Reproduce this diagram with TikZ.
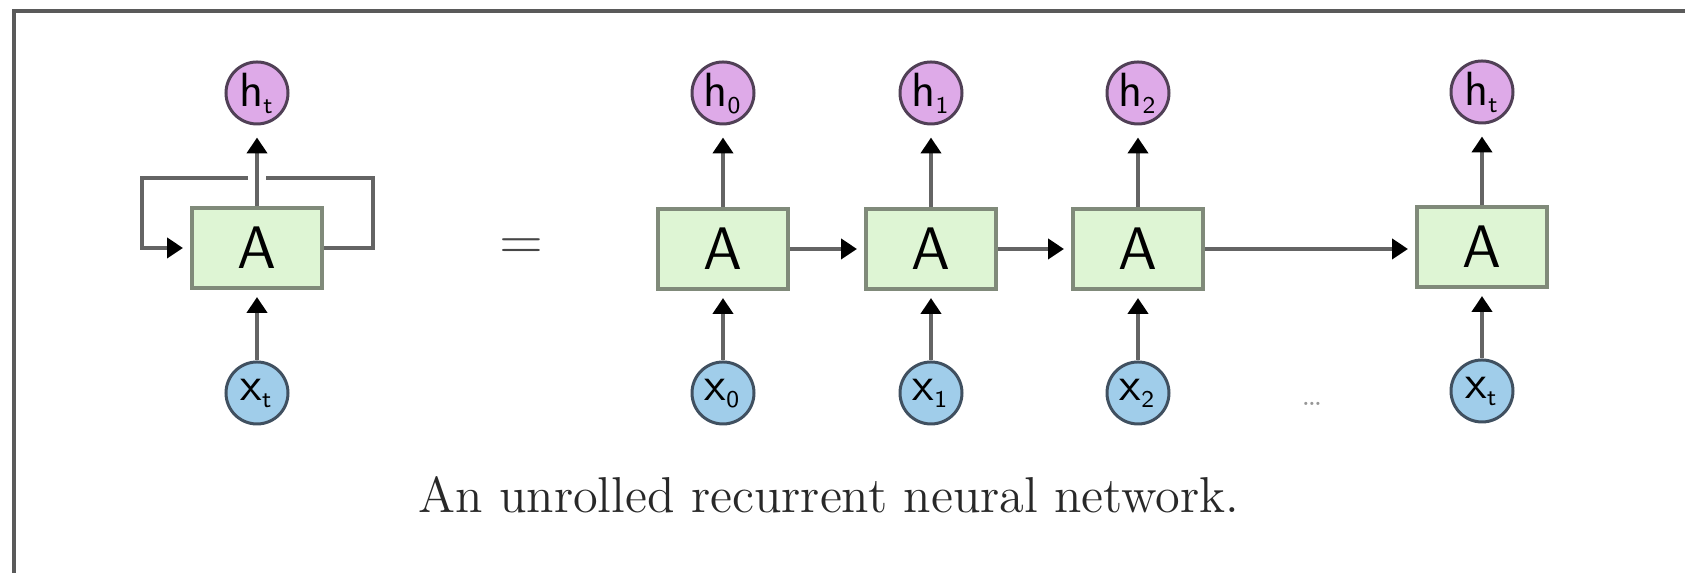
\documentclass[tikz,border=0pt]{standalone}
\usepackage{xcolor}
\usepackage{amsmath}
\usepackage{amssymb}
\usetikzlibrary{arrows.meta}

\begin{document}
\begin{tikzpicture}[x=0.25pt,y=0.25pt,yscale=-1,xscale=1,
  cell/.style={draw={rgb, 255:red, 128; green, 138; blue, 122}, fill={rgb, 255:red, 222; green, 245; blue, 212}, line width=1pt, minimum width=32.5pt, minimum height=20pt, inner sep=0pt, font=\sffamily\fontsize{15}{15}\selectfont},
  hstate/.style={circle, draw={rgb, 255:red, 80; green, 64; blue, 86}, fill={rgb, 255:red, 222; green, 170; blue, 232}, line width=0.75pt, minimum size=15.5pt, inner sep=0pt, font=\fontsize{12}{12}\selectfont},
  xinput/.style={circle, draw={rgb, 255:red, 64; green, 80; blue, 96}, fill={rgb, 255:red, 160; green, 205; blue, 234}, line width=0.75pt, minimum size=15.5pt, inner sep=0pt, font=\fontsize{12}{12}\selectfont},
  link/.style={draw={rgb, 255:red, 100; green, 100; blue, 100}, line width=1pt},
  flow/.style={link, -{Triangle[black,length=4pt,width=5pt]}, shorten >=1.75pt}
]
\useasboundingbox (0,0) rectangle (1685,573);

%Straight Lines [frame]
\draw [color={rgb, 255:red, 90; green, 90; blue, 90 }, line width=1pt] (14,573) -- (14,11) -- (1685,11) ;

%Folded network
\node [cell] (A) at (257,248) {A};
\node [hstate] (ht) at (257,93) {$\mathsf{h}_{\scriptscriptstyle\mathsf{t}}$};
\node [xinput] (xt) at (257,393) {$\mathsf{x}_{\scriptscriptstyle\mathsf{t}}$};
\coordinate (loopR) at (373,178);
\coordinate (loopL) at (142,178);
\coordinate (gapR) at (266,178);
\coordinate (gapL) at (248,178);
\draw [flow] (xt) -- (A);
\draw [flow, shorten >=3pt] (A) -- (ht);
\draw [link] (A.east) -| (loopR) -- (gapR);
\draw [flow] (gapL) -- (loopL) |- (A.west);

% Text Node
\node [font=\fontsize{14}{14}\selectfont, text={rgb, 255:red, 70; green, 70; blue, 70}] (eq) at (521,249) {$=$};

%Unrolled network
\node [cell] (A0) at (723,249) {A};
\node [cell] (A1) at (931,249) {A};
\node [cell] (A2) at (1138,249) {A};
\node [cell] (A3) at (1482,247) {A};
\node [hstate] (h0) at (723,93) {$\mathsf{h}_{\scriptscriptstyle\mathsf{0}}$};
\node [hstate] (h1) at (931,93) {$\mathsf{h}_{\scriptscriptstyle\mathsf{1}}$};
\node [hstate] (h2) at (1138,93) {$\mathsf{h}_{\scriptscriptstyle\mathsf{2}}$};
\node [hstate] (h3) at (1482,92) {$\mathsf{h}_{\scriptscriptstyle\mathsf{t}}$};
\node [xinput] (x0) at (723,393) {$\mathsf{x}_{\scriptscriptstyle\mathsf{0}}$};
\node [xinput] (x1) at (931,393) {$\mathsf{x}_{\scriptscriptstyle\mathsf{1}}$};
\node [xinput] (x2) at (1138,393) {$\mathsf{x}_{\scriptscriptstyle\mathsf{2}}$};
\node [xinput] (x3) at (1482,391) {$\mathsf{x}_{\scriptscriptstyle\mathsf{t}}$};

\draw [flow] (x0) -- (A0);
\draw [flow] (x1) -- (A1);
\draw [flow] (x2) -- (A2);
\draw [flow] (x3) -- (A3);
\draw [flow, shorten >=3pt] (A0) -- (h0);
\draw [flow, shorten >=3pt] (A1) -- (h1);
\draw [flow, shorten >=3pt] (A2) -- (h2);
\draw [flow, shorten >=3pt] (A3) -- (h3);
\draw [flow] (A0) -- (A1);
\draw [flow] (A1) -- (A2);
\draw [flow] (A2.east) -- (A3.west |- A2.east);

% Text Node
\node [font=\fontsize{7}{7}\selectfont, text={rgb, 255:red, 150; green, 150; blue, 150}] (dots) at (1312,404) {\ldots};
% Text Node
\node [anchor=base, inner sep=0pt, font=\fontsize{12.6}{14}\selectfont, text={rgb, 255:red, 40; green, 40; blue, 40}] (caption) at (829,513) {An unrolled recurrent neural network.};

\end{tikzpicture}
\end{document}
